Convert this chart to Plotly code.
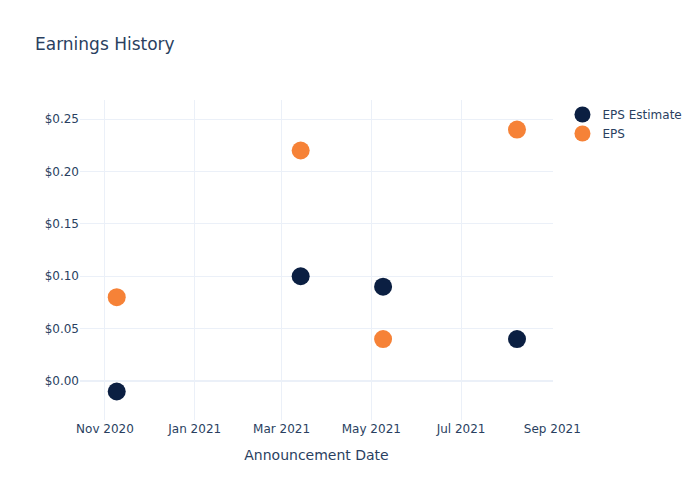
import plotly.graph_objects as go

dates = ["2020-11-09", "2021-03-14", "2021-05-09", "2021-08-08"]
eps_estimate = [-0.01, 0.10, 0.09, 0.04]
eps_actual = [0.08, 0.22, 0.04, 0.24]

fig = go.Figure()
fig.add_trace(go.Scatter(x=dates, y=eps_estimate, mode="markers", name="EPS Estimate",
                         marker=dict(size=18, color="#0b1f42")))
fig.add_trace(go.Scatter(x=dates, y=eps_actual, mode="markers", name="EPS",
                         marker=dict(size=18, color="#f68237")))
fig.update_layout(
    template="plotly_white",
    width=692, height=492,
    font=dict(family="DejaVu Sans"),
    margin=dict(l=72, r=147, t=92, b=80, autoexpand=False),
    title=dict(text="Earnings History", x=27/692, xanchor="left",
               yref="container", y=1 - 30/492),
    xaxis=dict(title=dict(text="Announcement Date"),
               range=["2020-10-15 01:00", "2021-09-01 11:00"]),
    yaxis=dict(tickformat="$.2f", range=[-0.0372, 0.2682]),
)
fig.write_html("out.html")
